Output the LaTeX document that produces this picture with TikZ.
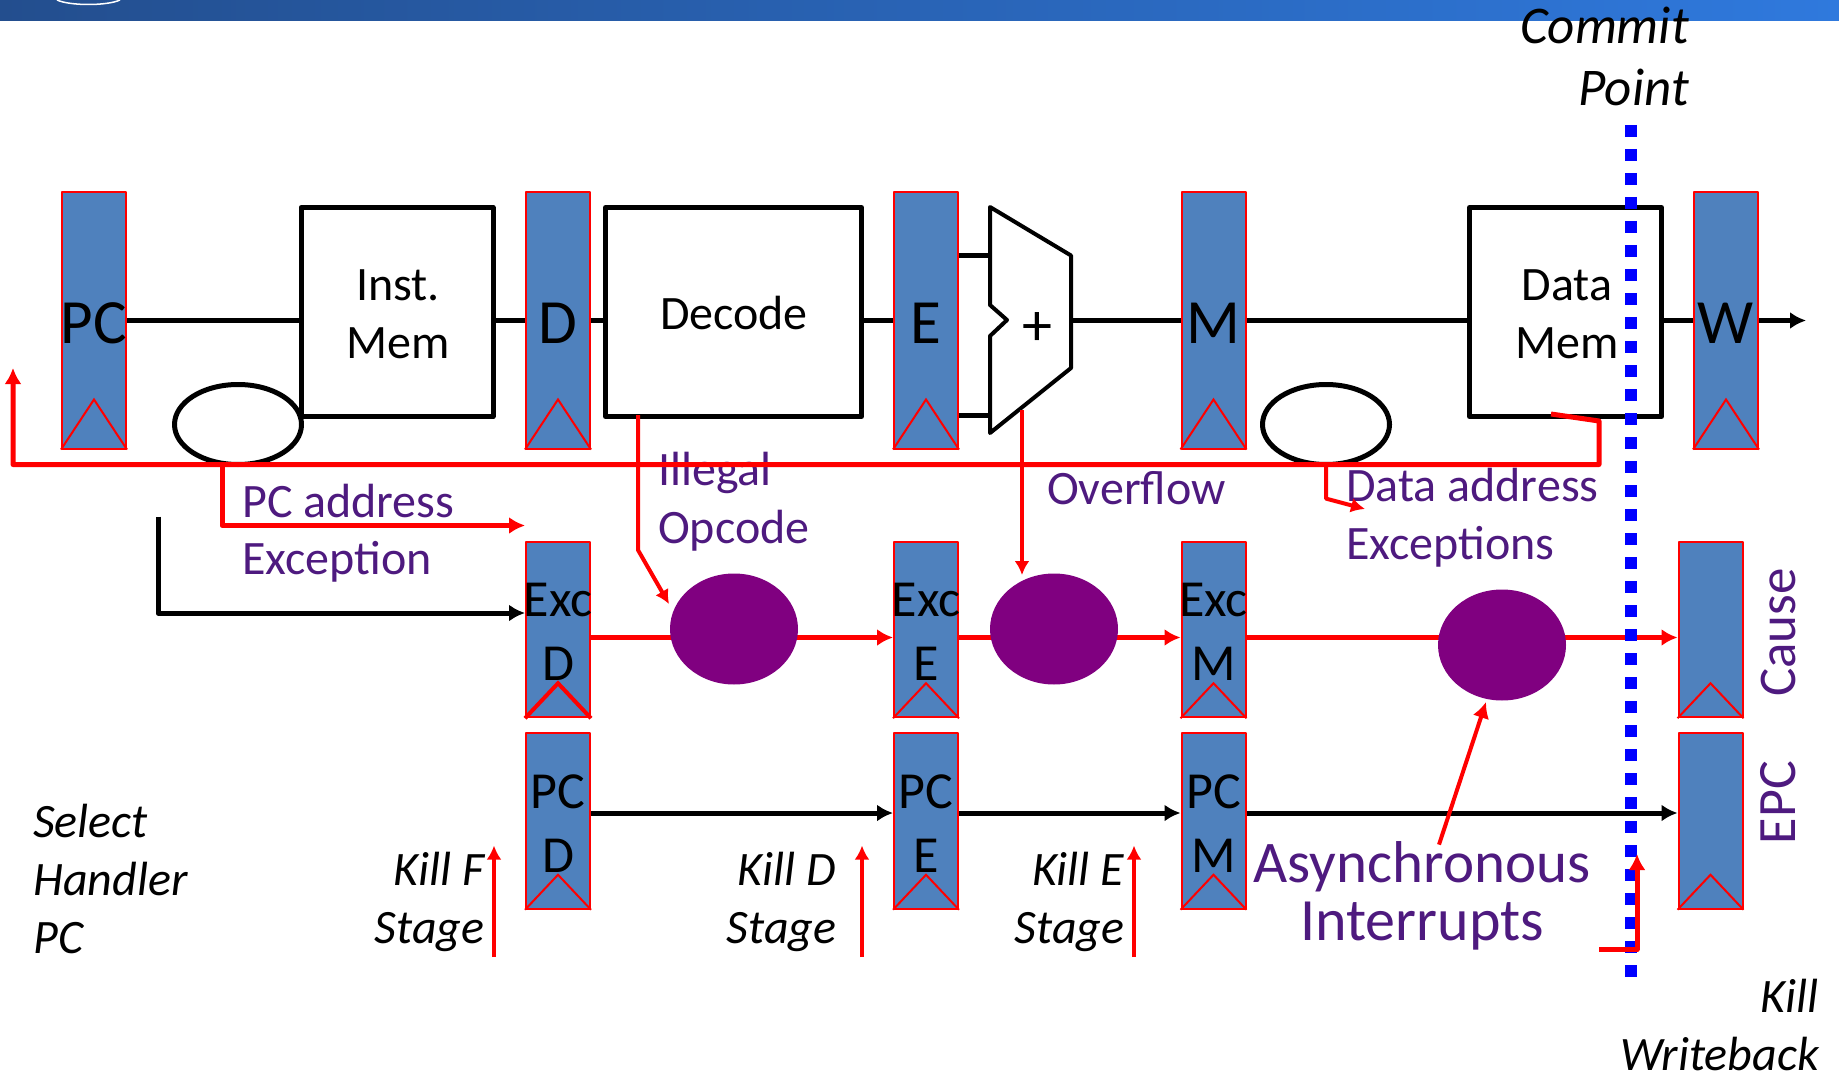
\documentclass[tikz,border=0pt]{standalone}
\usepackage{fontspec}
\setmainfont{Carlito}
\usetikzlibrary{arrows.meta,shapes.geometric}
\definecolor{regblue}{HTML}{4F81BD}
\definecolor{txtpurple}{HTML}{4E1A7F}
\definecolor{dotpurple}{HTML}{800080}
\definecolor{barleft}{HTML}{234E8E}
\definecolor{barright}{HTML}{2F79DD}
\tikzset{
  regbox/.style={draw=red, fill=regblue, line width=2pt, inner sep=0pt, minimum width=64pt},
  regtop/.style={regbox, minimum height=256pt},
  reglow/.style={regbox, minimum height=175.5pt},
  regtext/.style={font=\fontsize{52}{64}\selectfont, align=center, inner sep=0pt, yshift=-2.5pt},
  regbig/.style={regtext, font=\fontsize{63}{64}\selectfont},
  unitbox/.style={draw, fill=white, line width=5pt, inner sep=0pt, minimum height=209pt},
  unittext/.style={font=\fontsize{48}{58}\selectfont, align=center, inner sep=0pt},
  purpletext/.style={font=\fontsize{48}{58}\selectfont, text=txtpurple, inner sep=0pt},
  blacktext/.style={font=\fontsize{48}{58}\selectfont\itshape, inner sep=0pt},
  oval/.style={ellipse, draw, fill=white, line width=5pt, inner sep=0pt, minimum width=127pt, minimum height=80pt},
  dot/.style={ellipse, fill=dotpurple, inner sep=0pt, minimum width=128pt, minimum height=111pt},
  wire/.style={line width=5pt},
  redwire/.style={draw=red, line width=5pt},
  redthin/.style={draw=red, line width=4pt},
  smalltip/.style={>={Latex[length=14pt,width=15pt]}},
  clk/.style={draw=red, line width=2pt, line join=miter}
}
\begin{document}
\begin{tikzpicture}[x=1pt, y=-1pt, >={Latex[length=16pt,width=17pt]}, line join=round]
  \useasboundingbox (0,0) rectangle (1839,1075);

  % Title bar
  \shade[left color=barleft, right color=barright] (0,0) rectangle (1839,21);
  \draw[white, line width=1.5pt] (57,0) .. controls (70,6) and (107,6) .. (120,0);

  % Registers, top row
  \node[regtop] (pc) at (94,320.5) {};
  \node[regtop] (d) at (558,320.5) {};
  \node[regtop] (e) at (926,320.5) {};
  \node[regtop] (m) at (1213.5,320.5) {};
  \node[regtop] (w) at (1726,320.5) {};

  % Registers, exception row
  \node[reglow] (excd) at (558,629.5) {};
  \node[reglow] (exce) at (926,629.5) {};
  \node[reglow] (excm) at (1213.5,629.5) {};
  \node[reglow] (cause) at (1710.5,629.5) {};

  % Registers, PC row
  \node[reglow] (pcd) at (558,821) {};
  \node[reglow] (pce) at (926,821) {};
  \node[reglow] (pcm) at (1213.5,821) {};
  \node[reglow] (epc) at (1710.5,821) {};

  % Clock marks
  \foreach \r in {pc,d,e,m,w}
    \draw[clk] (\r.south west) -- ([yshift=50pt]\r.south) -- (\r.south east);
  \foreach \r in {exce,excm,cause,pcd,pce,pcm,epc}
    \draw[clk] (\r.south west) -- ([yshift=35pt]\r.south) -- (\r.south east);
  \draw[clk, line width=4pt] (excd.south west) -- ([yshift=35pt]excd.south) -- (excd.south east);

  % Register labels
  \node[regbig] (pclbl) at (pc) {PC};
  \node[regbig] (dlbl) at (d) {D};
  \node[regbig] (elbl) at (e) {E};
  \node[regbig] (mlbl) at (m) {M};
  \node[regbig] (wlbl) at (w) {W};
  \node[regtext] (excdlbl) at (excd) {Exc\\D};
  \node[regtext] (excelbl) at (exce) {Exc\\E};
  \node[regtext] (excmlbl) at (excm) {Exc\\M};
  \node[regtext] (pcdlbl) at (pcd) {PC\\D};
  \node[regtext] (pcelbl) at (pce) {PC\\E};
  \node[regtext] (pcmlbl) at (pcm) {PC\\M};

  % Units
  \node[unitbox, minimum width=192pt] (imem) at (397,312) {};
  \node[unitbox, minimum width=256pt] (dec) at (733.5,312) {};
  \node[unitbox, minimum width=192pt] (dmem) at (1565.5,312) {};
  \node[unittext] (imemlbl) at (398,314) {Inst.\\Mem};
  \node[unittext] (declbl) at (734,313) {Decode};
  \node[unittext] (dmemlbl) at (1567,314) {Data\\Mem};

  % Black pipeline wires
  \draw[wire] (pc.east) -- (pc.east -| imem.west);
  \draw[wire] (d.west -| imem.east) -- (d.west);
  \draw[wire] (d.east) -- (d.east -| dec.west);
  \draw[wire] (e.west -| dec.east) -- (e.west);
  \coordinate (addi) at (990,255.5);
  \coordinate (addj) at (990,415.5);
  \draw[wire] (addi -| e.east) -- (addi);
  \draw[wire] (addj -| e.east) -- (addj);
  \draw[wire] (1071,320.5) -- (m.west);
  \draw[wire] (m.east) -- (m.east -| dmem.west);
  \draw[wire] (w.west -| dmem.east) -- (w.west);
  \coordinate (wend) at (1806,320.5);
  \draw[wire, ->] (w.east) -- (wend);

  % ALU
  \draw[fill=white, line width=4pt, line join=round] (990,207) -- (1071,255.5) -- (1071,368) -- (990,433)
    -- (990,336) -- (1007,320) -- (990,305) -- cycle;
  \node[unittext, font=\fontsize{60}{60}\selectfont] (plus) at (1037,329) {+};

  % Purple labels
  \node[purpletext, anchor=west] (pcexc1) at (242,501) {PC address};
  \node[purpletext, anchor=west] (pcexc2) at (242,562) {Exception};
  \node[purpletext, anchor=west] (ill1) at (658,473) {Illegal};
  \node[purpletext, anchor=west] (ill2) at (658,530.5) {Opcode};
  \node[purpletext, anchor=west] (ovf) at (1047,488) {Overflow};
  \node[purpletext, anchor=west] (da1) at (1346,485) {Data address};
  \node[purpletext, anchor=west] (da2) at (1346,547) {Exceptions};
  \node[purpletext, font=\fontsize{59}{58}\selectfont] (asy1) at (1422,867) {Asynchronous};
  \node[purpletext, font=\fontsize{60}{58}\selectfont] (asy2) at (1422,926) {Interrupts};
  \node[purpletext, font=\fontsize{53}{58}\selectfont, rotate=90] (causelbl) at (1778,632.5) {Cause};
  \node[purpletext, font=\fontsize{54}{58}\selectfont, rotate=90] (epclbl) at (1778,802.5) {EPC};

  % Ovals and dots
  \node[oval] (ovala) at (238,424.5) {};
  \node[oval] (ovalb) at (1326,424.5) {};

  % Exception bus
  \coordinate (busl) at (13,464.5);
  \coordinate (busr) at (1599,464.5);
  \coordinate (pcup) at (13,368);
  \coordinate (dmemb) at (1551,414);
  \coordinate (dmemc) at (1599,421);
  \draw[redwire, ->] (dmemb) -- (dmemc) -- (busr) -- (busl) -- (pcup);

  % Branches off the bus
  \coordinate (pcb) at (222,464.5);
  \coordinate (pcc) at (222,525.5);
  \coordinate (pcarrow) at (525,525.5);
  \draw[redwire, ->] (pcb) -- (pcc) -- (pcarrow);
  \coordinate (dab) at (1326,464.5);
  \coordinate (dac) at (1326,498.6);
  \coordinate (daarrow) at (1365,509);
  \draw[redthin, smalltip, ->] (dab) -- (dac) -- (daarrow);

  % Decode and ALU faults
  \coordinate (illb) at (638,415);
  \coordinate (illc) at (638,550);
  \coordinate (illarrow) at (669,604);
  \draw[redthin, smalltip, ->] (illb) -- (illc) -- (illarrow);
  \coordinate (ovfb) at (1022,410);
  \coordinate (ovfarrow) at (1022,575);
  \draw[redthin, smalltip, ->] (ovfb) -- (ovfarrow);

  % Black line into Exc D
  \coordinate (selt) at (158,516.5);
  \coordinate (selb) at (158,613);
  \coordinate (selarrow) at (525,613);
  \draw[wire, ->] (selt) -- (selb) -- (selarrow);

  % Exception and PC rows
  \coordinate (excy) at (0,637.5);
  \coordinate (pcy) at (0,813);
  \draw[redwire, ->] (excy -| excd.east) -- (excy -| exce.west);
  \draw[redwire, ->] (excy -| exce.east) -- (excy -| excm.west);
  \draw[redwire, ->] (excy -| excm.east) -- (excy -| cause.west);
  \draw[wire, ->] (pcy -| pcd.east) -- (pcy -| pce.west);
  \draw[wire, ->] (pcy -| pce.east) -- (pcy -| pcm.west);
  \draw[wire, ->] (pcy -| pcm.east) -- (pcy -| epc.west);

  % Dots sit on the row lines
  \node[dot] (dota) at (734,629) {};
  \node[dot] (dotb) at (1054,629) {};
  \node[dot] (dotc) at (1502,645) {};

  % Interrupt arrow
  \coordinate (asyfoot) at (1439,844.6);
  \coordinate (asytip) at (1486,702);
  \draw[redthin, ->] (asyfoot) -- (asytip);

  % Commit line
  \coordinate (comt) at (1630.5,125);
  \coordinate (comb) at (1630.5,976.6);
  \draw[draw=blue, line width=12pt, dash pattern=on 12pt off 12pt] (comt) -- (comb);

  % Kill arrows
  \coordinate (killfa) at (494,957);
  \coordinate (killfb) at (494,845.6);
  \coordinate (killda) at (862,957);
  \coordinate (killdb) at (862,845.6);
  \coordinate (killea) at (1134,957);
  \coordinate (killeb) at (1134,845.6);
  \draw[redthin, smalltip, ->] (killfa) -- (killfb);
  \draw[redthin, smalltip, ->] (killda) -- (killdb);
  \draw[redthin, smalltip, ->] (killea) -- (killeb);
  \coordinate (killwa) at (1599,949.5);
  \coordinate (killwb) at (1637,949.5);
  \coordinate (killwc) at (1637,854);
  \draw[redwire, ->] (killwa) -- (killwb) -- (killwc);

  % Black labels
  \node[blacktext, font=\fontsize{53}{58}\selectfont\itshape, anchor=east, align=right] (commit) at (1689,56) {Commit\\[4pt]Point};
  \node[blacktext, anchor=west, align=left] (select) at (33,879) {Select\\Handler\\PC};
  \node[blacktext, anchor=east, align=right] (killf) at (484.5,901.5) {Kill F\\Stage};
  \node[blacktext, anchor=east, align=right] (killd) at (836.5,901.5) {Kill D\\Stage};
  \node[blacktext, anchor=east, align=right] (kille) at (1124.5,901.5) {Kill E\\Stage};
  \node[blacktext, anchor=east, align=right] (killw) at (1819,1025) {Kill\\Writeback};
\end{tikzpicture}
\end{document}
